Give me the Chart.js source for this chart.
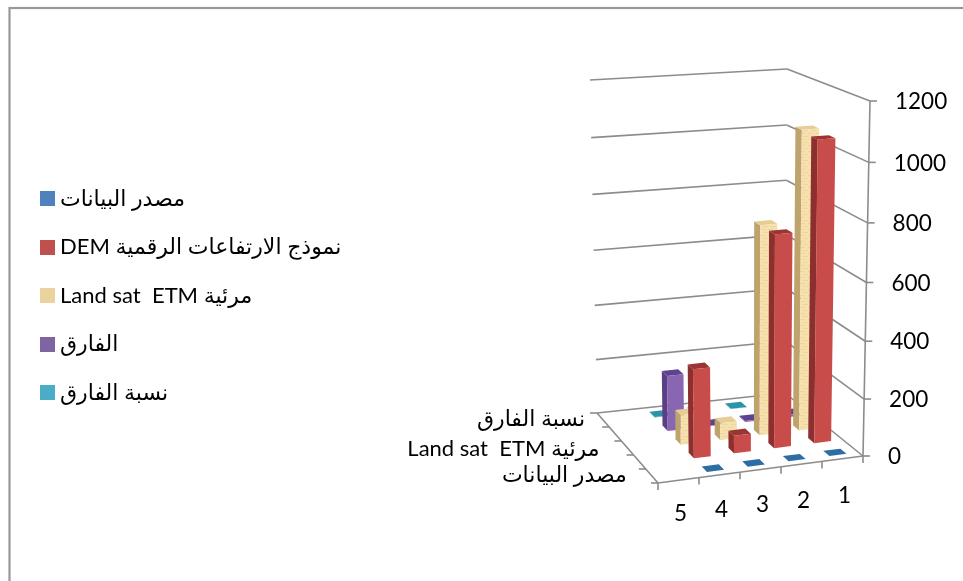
<!DOCTYPE html>
<html><head><meta charset="utf-8">
<style>html,body{margin:0;padding:0;background:#fff}canvas{display:block}</style>
<script src="https://cdn.jsdelivr.net/npm/chart.js@4"></script>
</head><body><canvas id="c" width="963" height="581"></canvas>
<script>
const categories = ['5','4','3','2','1'];
const seriesNames = ['مصدر البيانات','DEM نموذج الارتفاعات الرقمية','Land sat  ETM مرئية','الفارق','نسبة الفارق'];
const sourceValues = [null,0,0,0,0];
const demValues = [null,312,62,745,1052];
const etmValues = [null,106,60,745,1060];
const diffValues = [null,201,2,4,8];
const ratioValues = [null,1,1,1,1];
const yTicks = {min:0,max:1200,step:200};

const seriesColors = ['#4F81BD','#C0504D','#EBD29F','#8064A2','#4BACC6'];
const frontColors = ['#3F74AE','#C84C4A','#F5E0AE','#8866B2','#3FA0B4'];
const sideColors  = ['#2C5C90','#8C2F2E','#BFA36C','#5A3F88','#2A8090'];
const topColors   = ['#2E6CA4','#9C3433','#E6CD96','#5E4392','#2C94A8'];

// perspective frame of the 3D box, used to project normalised (u,v,w)
const box = {
  fb0:[658,483], fb1:[863,456], bb0:[597,413], bb1:[785,393],
  ft0:[651,118], ft1:[870,101], bt0:[590,80],  bt1:[787,69]
};
const mix=(a,b,t)=>[a[0]+(b[0]-a[0])*t,a[1]+(b[1]-a[1])*t];
function proj(u,v,w){
  const bot=mix(mix(box.fb0,box.fb1,u),mix(box.bb0,box.bb1,u),v);
  const top=mix(mix(box.ft0,box.ft1,u),mix(box.bt0,box.bt1,u),v);
  return mix(bot,top,w-0.045*w*(1-w));
}
function poly(ctx,pts,fill){
  ctx.beginPath();pts.forEach((p,i)=>i?ctx.lineTo(p[0],p[1]):ctx.moveTo(p[0],p[1]));ctx.closePath();
  ctx.fillStyle=fill;ctx.fill();
}
function seg(ctx,a,b){ctx.beginPath();ctx.moveTo(a[0],a[1]);ctx.lineTo(b[0],b[1]);ctx.stroke();}
function legendSwatch(color){
  const c=document.createElement('canvas');c.width=15;c.height=15;
  const g=c.getContext('2d');g.fillStyle=color;g.fillRect(0,0,15,15);return c;
}
function bandPattern(ctx){
  const c=document.createElement('canvas');c.width=8;c.height=6;
  const g=c.getContext('2d');g.fillStyle='#F5E0AE';g.fillRect(0,0,8,6);
  g.fillStyle='#EFD69E';g.fillRect(0,1,5,1);g.fillRect(3,4,5,1);
  return ctx.createPattern(c,'repeat');
}

class Bar3D extends Chart.BarController{
  draw(){
    const ctx=this.chart.ctx, area=this.chart.chartArea;
    const xScale=this._cachedMeta.xScale,yScale=this._cachedMeta.yScale;
    const idx=this.index, data=this.getDataset().data, nS=this.chart.data.datasets.length;
    const halfU=0.042, halfV=0.04, vc=(idx+0.5)/nS;
    const front=idx===2?bandPattern(ctx):frontColors[idx];
    data.forEach((val,i)=>{
      if(val===null)return;
      const uc=(xScale.getPixelForValue(i)-area.left)/area.width;
      const w=(area.bottom-yScale.getPixelForValue(val))/area.height;
      const u0=uc-halfU,u1=uc+halfU,v0=vc-halfV,v1=vc+halfV;
      ctx.save();
      poly(ctx,[proj(u0,v0,0),proj(u0,v1,0),proj(u0,v1,w),proj(u0,v0,w)],sideColors[idx]);
      poly(ctx,[proj(u0,v0,w),proj(u0,v1,w),proj(u1,v1,w),proj(u1,v0,w)],topColors[idx]);
      poly(ctx,[proj(u0,v0,0),proj(u1,v0,0),proj(u1,v0,w),proj(u0,v0,w)],front);
      ctx.restore();
    });
  }
}
Bar3D.id='bar3d';
Bar3D.defaults=Chart.BarController.defaults;
Bar3D.overrides=Chart.BarController.overrides;
Chart.register(Bar3D);

const font3d="Lato,'Open Sans','DejaVu Sans',sans-serif";
const wallPlugin={
  id:'wall',
  afterLayout(chart){ const l=chart.legend; if(l){l.top+=17;l.bottom+=17;} },
  beforeDatasetsDraw(chart){
    const ctx=chart.ctx,y=chart.scales.y,a=chart.chartArea;
    ctx.save();
    ctx.strokeStyle='#989898';ctx.lineWidth=2.2;
    ctx.strokeRect(9.5,8,1000,1000);
    ctx.strokeStyle='#8c8c8c';ctx.lineWidth=1.6;
    y.ticks.forEach(t=>{
      const w=(a.bottom-y.getPixelForValue(t.value))/a.height;
      seg(ctx,proj(0,1,w),proj(1,1,w));
      seg(ctx,proj(1,1,w),proj(1,0,w));
      const p=proj(1,0,w);seg(ctx,p,[p[0]+7,p[1]]);
    });
    seg(ctx,proj(1,0,0),proj(1,0,1));
    seg(ctx,proj(0,0,0),proj(1,0,0));
    seg(ctx,proj(0,0,0),proj(0,1,0));
    for(let i=0;i<=categories.length;i++){const p=proj(i/categories.length,0,0);seg(ctx,p,[p[0],p[1]+7]);}
    const n=chart.data.datasets.length;
    for(let i=0;i<=n;i++){const p=proj(0,i/n,0);seg(ctx,p,[p[0]-7,p[1]]);}
    ctx.fillStyle='#000';ctx.textBaseline='middle';
    ctx.font='22.5px '+font3d;ctx.textAlign='left';
    y.ticks.forEach(t=>{
      const w=(a.bottom-y.getPixelForValue(t.value))/a.height;
      const p=proj(1,0,w);ctx.fillText(t.label,p[0]+25,p[1]+1);
    });
    const xS=chart.scales.x;ctx.textAlign='center';
    categories.forEach((c,i)=>{
      const u=(xS.getPixelForValue(i)-a.left)/a.width,p=proj(u,0,0);
      ctx.fillText(xS.getLabelForValue(i),p[0]+2,p[1]+33+5*u);
    });
    ctx.textAlign='right';ctx.font='22px '+font3d;
    [[0,-25,-1],[2,-28,1],[4,-18,-1]].forEach(([s,dx,dy])=>{
      const p=proj(0,(s+0.5)/n,0);
      ctx.fillText(chart.data.datasets[s].label,p[0]+dx,p[1]+dy);
    });
    ctx.restore();
  }
};
const allValues=[sourceValues,demValues,etmValues,diffValues,ratioValues];
new Chart(document.getElementById('c'),{
  type:'bar3d',
  data:{labels:categories,datasets:allValues.map((d,i)=>({label:seriesNames[i],data:d,backgroundColor:seriesColors[i],borderWidth:0,clip:false}))},
  options:{
    responsive:false,animation:false,
    layout:{padding:{top:101,bottom:125,left:19.5,right:93}},
    scales:{
      x:{display:false},
      y:{display:false,min:yTicks.min,max:yTicks.max,ticks:{stepSize:yTicks.step,callback:v=>String(v)}}
    },
    plugins:{
      tooltip:{enabled:false},
      legend:{position:'left',labels:{
        usePointStyle:true,pointStyleWidth:3,boxHeight:15,padding:26.5,color:'#000',font:{family:font3d,size:22},
        generateLabels(chart){
          return Chart.defaults.plugins.legend.labels.generateLabels(chart).map((it,i)=>Object.assign(it,{pointStyle:legendSwatch(seriesColors[i])}));
        }
      }}
    }
  },
  plugins:[wallPlugin]
});
</script></body></html>
